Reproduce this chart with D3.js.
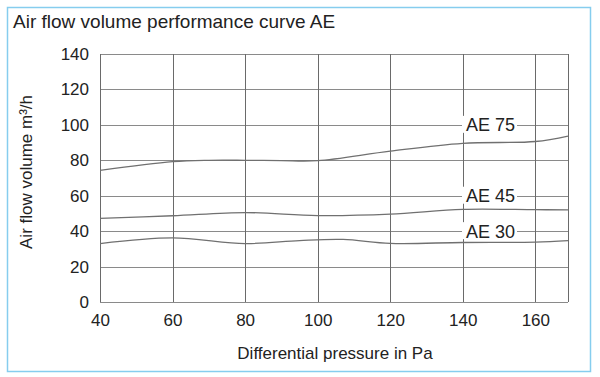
<!DOCTYPE html>
<html><head><meta charset="utf-8">
<script src="https://cdn.jsdelivr.net/npm/d3@7"></script>
<style>body{margin:0;background:#fff;} text{font-family:"Liberation Sans",Arial,sans-serif;fill:#222;}</style>
</head><body>
<svg id="c" width="600" height="377"></svg>
<script>
const xTicks = [40, 60, 80, 100, 120, 140, 160];
const yTicks = [0, 20, 40, 60, 80, 100, 120, 140];
const pressure = [40, 60, 70, 80, 90, 100, 120, 140, 160, 169];
const ae75 = [74.3, 79.2, 80, 80, 79.8, 79.8, 85.2, 89.6, 90.6, 93.7];
const pressure2 = [40, 60, 80, 100, 120, 140, 160, 169];
const ae45 = [47.2, 48.7, 50.5, 48.8, 49.6, 52.3, 52.1, 52];
const pressure3 = [40, 60, 80, 95, 107, 120, 140, 160, 169];
const ae30 = [33, 36.2, 33, 34.7, 35.3, 33.1, 33.6, 33.8, 34.6];
const seriesNames = ["AE 75", "AE 45", "AE 30"];
const labelLevels = [100, 60, 40];

const svg = d3.select("#c");
svg.append("rect").attr("x", 7.5).attr("y", 7.5).attr("width", 583).attr("height", 364)
  .attr("fill", "#fff").attr("stroke", "#86cdee").attr("stroke-width", 1.5);

svg.append("text").attr("x", 13).attr("y", 28).attr("font-size", 19).text("Air flow volume performance curve AE");

const x = d3.scaleLinear().domain([40, 169]).range([100, 568]);
const y = d3.scaleLinear().domain([0, 140]).range([302, 54]);

const g = svg.append("g");
g.selectAll(".hg").data(yTicks).join("line")
  .attr("x1", x(40)).attr("x2", x(169)).attr("y1", d => Math.round(y(d)) + 0.5).attr("y2", d => Math.round(y(d)) + 0.5)
  .attr("stroke", "#8a8a8a").attr("stroke-width", 1);
g.selectAll(".vg").data(xTicks.concat([169])).join("line")
  .attr("y1", y(0)).attr("y2", y(140)).attr("x1", d => Math.round(x(d)) + 0.5).attr("x2", d => Math.round(x(d)) + 0.5)
  .attr("stroke", "#6a6a6a").attr("stroke-width", 1);

const xa = svg.append("g").attr("transform", `translate(0,${y(0)})`)
  .call(d3.axisBottom(x).tickValues(xTicks).tickSize(0).tickPadding(12));
xa.select(".domain").remove();
xa.selectAll("text").attr("font-size", 17).attr("fill", "#333").attr("font-family", "Liberation Sans, Arial, sans-serif");
const ya = svg.append("g").attr("transform", `translate(${x(40)},0)`)
  .call(d3.axisLeft(y).tickValues(yTicks).tickSize(0).tickPadding(11));
ya.select(".domain").remove();
ya.selectAll("text").attr("font-size", 17).attr("fill", "#333").attr("font-family", "Liberation Sans, Arial, sans-serif");

svg.append("text").attr("x", 335).attr("y", 359).attr("text-anchor", "middle").attr("font-size", 17).attr("fill", "#333")
  .text("Differential pressure in Pa");
svg.append("text").attr("transform", `translate(32,172) rotate(-90)`).attr("text-anchor", "middle")
  .attr("font-size", 17).attr("fill", "#333").text("Air flow volume m³/h");

const mk = xs => d3.line().x((d, i) => x(xs[i])).y(d => y(d)).curve(d3.curveCatmullRom.alpha(0.5));
[[pressure, ae75], [pressure2, ae45], [pressure3, ae30]].forEach(([xs, s]) => {
  g.append("path").attr("d", mk(xs)(s)).attr("fill", "none").attr("stroke", "#707070").attr("stroke-width", 1.3);
});

seriesNames.forEach((n, i) => {
  const yy = y(labelLevels[i]);
  svg.append("rect").attr("x", 462).attr("y", yy - 9).attr("width", 55).attr("height", 17).attr("fill", "#fff");
  svg.append("text").attr("x", 466).attr("y", yy + 6.5).attr("font-size", 18).attr("fill", "#222").text(n);
});
</script>
</body></html>
